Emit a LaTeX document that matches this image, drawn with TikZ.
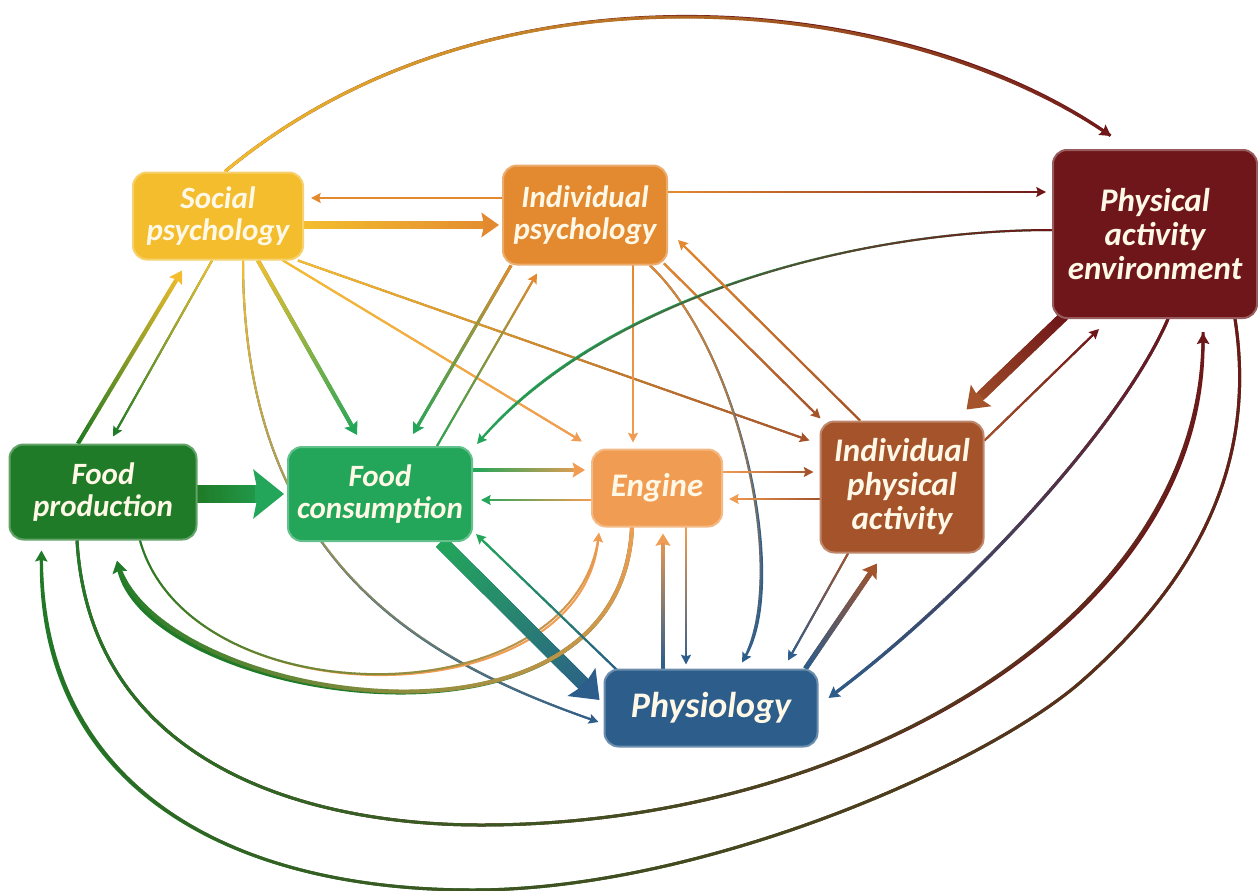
\documentclass[tikz,border=0pt]{standalone}
\usepackage{fontspec}
\setmainfont{Carlito}
\usetikzlibrary{arrows.meta,decorations.markings}
\pgfdeclarelayer{bg}
\pgfsetlayers{bg,main}

\definecolor{csoc}{HTML}{F3BD2E}
\definecolor{cind}{HTML}{E3892F}
\definecolor{cpae}{HTML}{6E1619}
\definecolor{cfp}{HTML}{1F7B27}
\definecolor{cfc}{HTML}{23A65A}
\definecolor{ceng}{HTML}{F09C52}
\definecolor{cipa}{HTML}{A4532B}
\definecolor{cphy}{HTML}{2D5D8B}
\definecolor{ctext}{HTML}{FFF8E6}

\tikzset{
  box/.style={draw=#1!70!white, fill=#1, line width=2pt, rounded corners=14pt,
    text=ctext, align=center, inner sep=0pt,
    font=\fontsize{31}{32}\selectfont\bfseries\itshape},
  bigtext/.style={font=\fontsize{33}{34}\selectfont\bfseries\itshape},
  linkhead/.style={-{Stealth[length=7pt 1.3, width=5pt 2.4, inset=1pt 0.2]}}
}

% #1 colour at start, #2 colour at end, #3 width, #4 path
\newcommand\link[4]{%
  \pgfmathsetmacro\headlen{7+1.3*#3}%
  \draw[#2, line width=#3pt, linkhead] #4;
  \path[postaction={decorate, decoration={markings,
    mark=between positions 0 and -\headlen pt step 2.5pt with {%
      \pgfmathtruncatemacro\mix{100*(\pgfkeysvalueof{/pgf/decoration/mark info/distance from start}/\pgfdecoratedpathlength)}%
      \draw[line width=#3pt, #2!\mix!#1] (-0.3pt,0) -- (2.8pt,0);}}}] #4;}

\begin{document}
\begin{tikzpicture}[x=1pt, y=-1pt]
   \useasboundingbox (0,0) rectangle (1258,891);

   \node[box=csoc, minimum width=170pt, minimum height=87pt] (soc) at (218,216) {Social\\psychology};
   \node[box=cind, minimum width=164pt, minimum height=99pt] (ind) at (585,215) {Individual\\psychology};
   \node[box=cpae, bigtext, minimum width=204pt, minimum height=168pt] (pae) at (1155,234) {Physical\\activity\\environment};
   \node[box=cfp, minimum width=187pt, minimum height=95pt] (fp) at (103,492) {Food\\production};
   \node[box=cfc, minimum width=184pt, minimum height=94pt] (fc) at (380,494) {Food\\consumption};
   \node[box=ceng, bigtext, minimum width=130pt, minimum height=77pt] (eng) at (657,488) {Engine};
   \node[box=cipa, bigtext, minimum width=163pt, minimum height=131pt] (ipa) at (902,487) {Individual\\physical\\activity};
   \node[box=cphy, minimum width=213pt, minimum height=77pt, font=\fontsize{36}{38}\selectfont\bfseries\itshape] (phy) at (711,708) {Physiology};

   \coordinate (fpdip) at (481,825);
   \coordinate (paebend) at (1083,680);
   \coordinate (paedip) at (473,890);

   \begin{pgfonlayer}{bg}
      \fill[white] (0,0) rectangle (1258,891);
      % social psychology
      \link{csoc}{cpae}{3}{([xshift=7pt]soc.north) .. controls (494,-52) and (906,-5) .. ([xshift=-44pt,yshift=13pt]pae.north)}
      \link{csoc}{cind}{8}{([yshift=-9pt]soc.east) -- ([xshift=-3pt,yshift=-10pt]ind.west)}
      \link{csoc}{cfp}{2}{([xshift=-6pt]soc.south) -- ([xshift=10pt,yshift=7pt]fp.north)}
      \link{csoc}{cphy}{2}{([xshift=25pt]soc.south) .. controls (243,560) and (420,660) .. ([xshift=-5pt,yshift=-14pt]phy.west)}
      \link{csoc}{cfc}{4}{([xshift=40pt]soc.south) -- ([xshift=-23pt,yshift=11pt]fc.north)}
      \link{csoc}{ceng}{2}{([xshift=65pt]soc.south) -- ([xshift=-9pt,yshift=7pt]eng.north west)}
      \link{csoc}{cipa}{2}{([xshift=-6pt]soc.south east) -- ([xshift=-10pt,yshift=-20pt]ipa.north west)}
      % individual psychology
      \link{cind}{cind}{2}{([yshift=17pt]ind.west) -- ([xshift=7pt,yshift=18pt]soc.east)}
      \link{cind}{cpae}{2}{([yshift=23pt]ind.east) -- ([xshift=-6pt,yshift=42pt]pae.west)}
      \link{cind}{cfc}{3}{([xshift=9pt]ind.south west) -- ([xshift=33pt,yshift=12pt]fc.north)}
      \link{cind}{ceng}{2}{([xshift=48pt]ind.south) -- ([xshift=-24pt,yshift=6pt]eng.north)}
      \link{cind}{cphy}{2}{([xshift=65pt]ind.south) .. controls (740,350) and (790,580) .. ([xshift=31pt,yshift=6pt]phy.north)}
      \link{cind}{cipa}{2}{([xshift=-4pt,yshift=2pt]ind.south east) -- ([xshift=1pt,yshift=2pt]ipa.north west)}
      % physical activity environment
      \link{cpae}{cfc}{2}{([yshift=4pt]pae.west) .. controls (850,230) and (600,300) .. ([xshift=4pt,yshift=2pt]fc.north east)}
      \link{cpae}{cipa}{10}{([xshift=12pt,yshift=3pt]pae.south west) -- ([xshift=-18pt,yshift=11pt]ipa.north east)}
      \link{cpae}{cphy}{3}{([xshift=13pt]pae.south) .. controls (1120,430) and (960,600) .. ([xshift=10pt,yshift=10pt]phy.east)}
      \link{cpae}{cfp}{3}{([xshift=80pt]pae.south) .. controls (1260,480) and (1180,594) .. (paebend)
         .. controls (986,766) and (700,890) .. (paedip) .. controls (220,890) and (38,780) .. ([xshift=33pt,yshift=-10pt]fp.south west)}
      % food production
      \link{cfp}{csoc}{4}{([xshift=-25pt]fp.north) -- ([xshift=-36pt,yshift=-10pt]soc.south)}
      \link{cfp}{cfc}{18}{([yshift=-2pt]fp.east) -- ([xshift=-3pt]fc.west)}
      \link{cfp}{ceng}{2}{([xshift=37pt]fp.south) .. controls (190,720) and (580,720) .. ([xshift=8pt,yshift=-5pt]eng.south west)}
      \link{cfp}{cpae}{3}{([xshift=-26pt]fp.south) .. controls (90,760) and (300,825) .. (fpdip)
         .. controls (850,825) and (1205,620) .. ([xshift=48pt,yshift=-14pt]pae.south)}
      % food consumption
      \link{cfc}{cind}{2}{([xshift=57pt]fc.north) -- ([xshift=-48pt,yshift=-8pt]ind.south)}
      \link{cfc}{ceng}{4}{([yshift=24pt]fc.east) -- ([xshift=-6pt,yshift=18pt]eng.west)}
      \link{cfc}{cphy}{14}{([xshift=-32pt]fc.south east) -- ([xshift=-4pt,yshift=8pt]phy.west)}
      % engine
      \link{ceng}{cfc}{2}{([yshift=-12pt]eng.west) -- ([xshift=8pt,yshift=-6pt]fc.east)}
      \link{ceng}{cipa}{2}{([yshift=16pt]eng.east) -- ([xshift=-6pt,yshift=15pt]ipa.west)}
      \link{ceng}{cphy}{2}{([xshift=29pt]eng.south) -- ([xshift=-25pt,yshift=4pt]phy.north)}
      \link{ceng}{cfp}{4}{([xshift=-25pt]eng.south) .. controls (620,780) and (150,700) .. ([xshift=14pt,yshift=-20pt]fp.south)}
      % individual physical activity
      \link{cipa}{cind}{2}{([xshift=-42pt]ipa.north) -- ([xshift=10pt,yshift=-25pt]ind.east)}
      \link{cipa}{cpae}{2}{([yshift=-20pt]ipa.north east) -- ([xshift=47pt,yshift=-10pt]pae.south west)}
      \link{cipa}{ceng}{2}{([yshift=-12pt]ipa.west) -- ([xshift=6pt,yshift=-11pt]eng.east)}
      \link{cipa}{cphy}{2}{([xshift=-54pt]ipa.south) -- ([xshift=77pt,yshift=8pt]phy.north)}
      % physiology
      \link{cphy}{cfc}{2}{([xshift=14pt,yshift=-2pt]phy.north west) -- ([xshift=3pt,yshift=8pt]fc.south east)}
      \link{cphy}{ceng}{4}{([xshift=-48pt]phy.north) -- ([xshift=6pt,yshift=-6pt]eng.south)}
      \link{cphy}{cipa}{5}{([xshift=-13pt]phy.north east) -- ([xshift=-25pt,yshift=-10pt]ipa.south)}
   \end{pgfonlayer}
\end{tikzpicture}
\end{document}
